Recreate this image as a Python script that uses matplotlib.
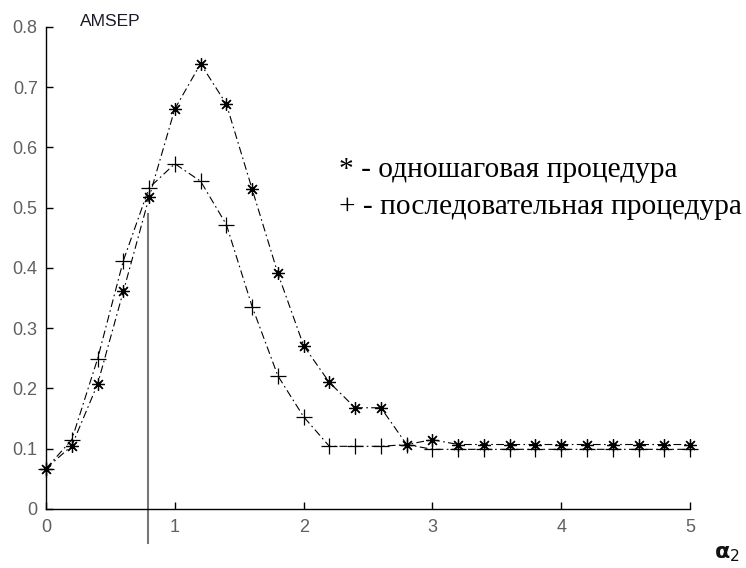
import numpy as np
import matplotlib.pyplot as plt

# alpha_2 grid and AMSEP values
alpha2 = [0.0, 0.2, 0.4, 0.6, 0.8, 1.0, 1.2, 1.4, 1.6, 1.8, 2.0, 2.2, 2.4,
          2.6, 2.8, 3.0, 3.2, 3.4, 3.6, 3.8, 4.0, 4.2, 4.4, 4.6, 4.8, 5.0]
one_step = [0.067, 0.105, 0.207, 0.361, 0.517, 0.664, 0.739, 0.672, 0.531,
            0.391, 0.271, 0.210, 0.168, 0.168, 0.107, 0.115, 0.107, 0.107,
            0.107, 0.107, 0.107, 0.107, 0.107, 0.107, 0.107, 0.107]
sequential = [0.067, 0.115, 0.249, 0.412, 0.533, 0.573, 0.544, 0.472, 0.336,
              0.221, 0.153, 0.104, 0.104, 0.104, 0.107, 0.099, 0.099, 0.099,
              0.099, 0.099, 0.099, 0.099, 0.099, 0.099, 0.099, 0.099]
xticks = [0, 1, 2, 3, 4, 5]
yticks = [0, 0.1, 0.2, 0.3, 0.4, 0.5, 0.6, 0.7, 0.8]
ytick_labels = ['0', '0.1', '0.2', '0.3', '0.4', '0.5', '0.6', '0.7', '0.8']
vline_x = 0.79
legend_lines = ['* - одношаговая процедура', '+ - последовательная процедура']

fig = plt.figure(figsize=(7.46, 5.68), dpi=100)
ax = fig.add_axes([0.0617, 0.1039, 0.8633, 0.8486])

dash = (7, 3, 1.5, 3)
ax.plot(alpha2, one_step, color='black', lw=0.8, dashes=dash,
        marker=(8, 2, 0), markersize=9, markeredgewidth=0.9,
        clip_on=False, zorder=3)
ax.plot(alpha2, sequential, color='black', lw=0.8, dashes=dash,
        marker='+', markersize=11, markeredgewidth=0.9,
        clip_on=False, zorder=3)

# vertical marker line, runs below the axis
ax.plot([vline_x, vline_x], [0.49, -0.057], color='#777777', lw=1.5,
        clip_on=False, zorder=2)

ax.set_xlim(0, 5)
ax.set_ylim(0, 0.8)
ax.set_xticks(xticks)
ax.set_yticks(yticks)
ax.set_yticklabels(ytick_labels)
for s in ['top', 'right']:
    ax.spines[s].set_visible(False)
for s in ['left', 'bottom']:
    ax.spines[s].set_linewidth(1.0)
ax.tick_params(direction='in', length=5, width=1.0, labelsize=13,
               labelcolor='#606060')
ax.tick_params(axis='x', pad=7)
ax.tick_params(axis='y', pad=6)
for lab in ax.get_xticklabels() + ax.get_yticklabels():
    lab.set_family('Liberation Sans')

fig.text(0.107, 0.962, 'AMSEP', fontsize=12.5, color='#1a1a2a',
         family='Liberation Sans', va='center')
fig.text(0.992, 0.024, r'$\mathbf{\alpha}_2$', fontsize=16, color='#111111',
         ha='right', va='center')

fig.text(0.454, 0.700, legend_lines[0], fontsize=21.2,
         family='Liberation Serif', va='center')
fig.text(0.454, 0.635, legend_lines[1], fontsize=21.2,
         family='Liberation Serif', va='center')

fig.savefig('out.png', dpi=100)
